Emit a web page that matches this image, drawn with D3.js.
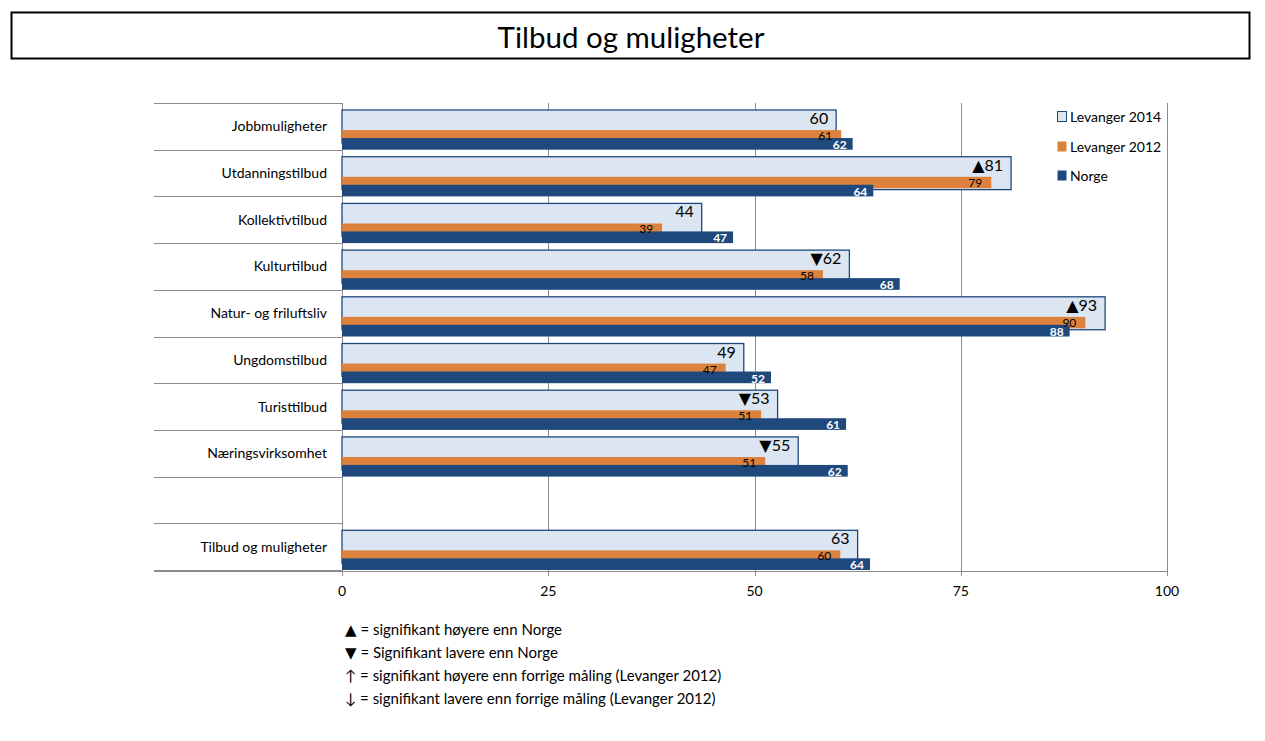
<!DOCTYPE html>
<html><head><meta charset="utf-8">
<script src="https://cdn.jsdelivr.net/npm/d3@7"></script>
<style>
body{margin:0;background:#fff;}
svg text{font-family:Lato,"Open Sans","DejaVu Sans",sans-serif;}
</style></head>
<body><svg id="c" width="1265" height="741"></svg>
<script>
const title = "Tilbud og muligheter";
const categories = ["Jobbmuligheter","Utdanningstilbud","Kollektivtilbud","Kulturtilbud","Natur- og friluftsliv","Ungdomstilbud","Turisttilbud","Næringsvirksomhet"," ","Tilbud og muligheter"];
const seriesNames = ["Levanger 2014","Levanger 2012","Norge"];
const levanger2014 = [59.9,81.1,43.6,61.5,92.5,48.7,52.8,55.3,null,62.5];
const levanger2012 = [60.5,78.7,38.8,58.3,90.1,46.5,50.8,51.3,null,60.4];
const norge = [61.9,64.4,47.4,67.6,88.2,52.0,61.1,61.3,null,64.0];
const labels2014 = ["60","81","44","62","93","49","53","55",null,"63"];
const labels2012 = ["61","79","39","58","90","47","51","51",null,"60"];
const labelsNorge = ["62","64","47","68","88","52","61","62",null,"64"];
const sig2014 = ["","▲","","▼","▲","","▼","▼",null,""];
const xTicks = [0,25,50,75,100];
const footnotes = ["▲ = signifikant høyere enn Norge","▼ = Signifikant lavere enn Norge","↑ = signifikant høyere enn forrige måling (Levanger 2012)","↓ = signifikant lavere enn forrige måling (Levanger 2012)"];

const colors = {light:"#dce6f2", lightStroke:"#1f497d", orange:"#dc823d", dark:"#1f497d", grid:"#8c8c8c"};
const svg = d3.select("#c");

// title box
svg.append("rect").attr("x",11.5).attr("y",12.5).attr("width",1238).attr("height",46)
  .attr("fill","#fff").attr("stroke","#000").attr("stroke-width",2);
svg.append("text").attr("x",631).attr("y",48).attr("text-anchor","middle")
  .attr("font-size",29.5).attr("fill","#000").text(title);

const x = d3.scaleLinear().domain([0,100]).range([342,1167]);
const y = d3.scaleBand().domain(categories).range([103,570]).paddingInner(0).paddingOuter(0);
const s = y.step();

// grid lines
const g = svg.append("g");
g.selectAll(".grid").data(xTicks).join("line")
  .attr("x1",d=>Math.round(x(d))+0.5).attr("x2",d=>Math.round(x(d))+0.5)
  .attr("y1",103).attr("y2",576).attr("stroke",colors.grid).attr("stroke-width",1);
// category separators
const seps = categories.map((c,i)=>i).concat([categories.length]);
g.selectAll(".sep").data(seps).join("line")
  .attr("x1",154).attr("x2",342)
  .attr("y1",i=>Math.round(103+i*s)+0.5).attr("y2",i=>Math.round(103+i*s)+0.5)
  .attr("stroke",colors.grid).attr("stroke-width",1);
// bottom axis line
g.append("line").attr("x1",154).attr("x2",1167).attr("y1",571.5).attr("y2",571.5)
  .attr("stroke",colors.grid).attr("stroke-width",1);

// axis labels
svg.selectAll(".xt").data(xTicks).join("text")
  .attr("x",d=>x(d)).attr("y",596).attr("text-anchor","middle")
  .attr("font-size",14).attr("fill","#000").text(d=>d);

// category labels
svg.selectAll(".cat").data(categories).join("text")
  .attr("x",327).attr("y",d=>y(d)+s/2+5).attr("text-anchor","end")
  .attr("font-size",14).attr("fill","#000").text(d=>d.trim());

const idx = categories.map((c,i)=>i).filter(i=>levanger2014[i]!==null);

// bars
const bars = svg.append("g");
bars.selectAll(".b1").data(idx).join("rect")
  .attr("x",x(0)).attr("y",i=>y(categories[i])+0.15*s)
  .attr("width",i=>x(levanger2014[i])-x(0)).attr("height",0.705*s)
  .attr("fill",colors.light).attr("stroke",colors.lightStroke).attr("stroke-width",1.3);
bars.selectAll(".b2").data(idx).join("rect")
  .attr("x",x(0)).attr("y",i=>y(categories[i])+0.58*s)
  .attr("width",i=>x(levanger2012[i])-x(0)).attr("height",0.245*s)
  .attr("fill",colors.orange);
bars.selectAll(".b3").data(idx).join("rect")
  .attr("x",x(0)).attr("y",i=>y(categories[i])+0.75*s)
  .attr("width",i=>x(norge[i])-x(0)).attr("height",0.25*s)
  .attr("fill",colors.dark);

// value labels
svg.selectAll(".l1").data(idx).join("text")
  .attr("x",i=>x(levanger2014[i])-8).attr("y",i=>y(categories[i])+21)
  .attr("text-anchor","end").attr("font-size",16).attr("fill","#000")
  .text(i=>(sig2014[i]||"")+labels2014[i]);
svg.selectAll(".l2").data(idx).join("text")
  .attr("x",i=>x(levanger2012[i])-9).attr("y",i=>y(categories[i])+37)
  .attr("text-anchor","end").attr("font-size",12).attr("fill","#000")
  .text(i=>labels2012[i]);
svg.selectAll(".l3").data(idx).join("text")
  .attr("x",i=>x(norge[i])-6).attr("y",i=>y(categories[i])+46)
  .attr("text-anchor","end").attr("font-size",12).attr("font-weight","bold").attr("fill","#fff")
  .text(i=>labelsNorge[i]);

// legend
const legFill = [colors.light, colors.orange, colors.dark];
const leg = svg.append("g").attr("transform","translate(1057,111)");
seriesNames.forEach((n,k)=>{
  const yy = [0,30,59][k];
  leg.append("rect").attr("x",0.5).attr("y",yy+0.5).attr("width",9).attr("height",10)
    .attr("fill",legFill[k]).attr("stroke",k===0?colors.lightStroke:"none");
  leg.append("text").attr("x",13).attr("y",yy+10.5).attr("font-size",14).attr("fill","#000").text(n);
});

// footnotes
svg.selectAll(".fn").data(footnotes).join("text")
  .attr("x",345).attr("y",(d,i)=>635+i*23).attr("font-size",15).attr("fill","#000").text(d=>d);
</script></body></html>
